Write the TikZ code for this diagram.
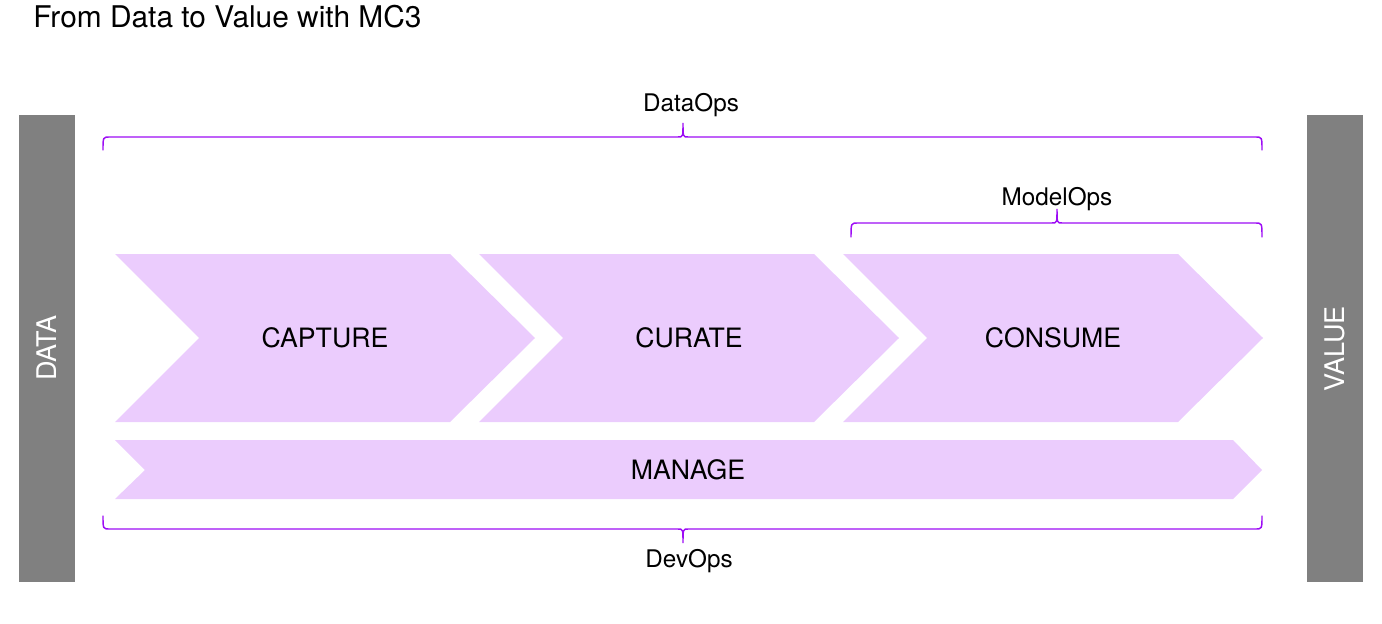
\documentclass[tikz,border=0pt]{standalone}
\usepackage{fontspec}
\setmainfont{TeX Gyre Heros}
\usetikzlibrary{calc}
\definecolor{stagefill}{HTML}{EBCCFD}
\definecolor{bracecol}{HTML}{9D0CF5}
\definecolor{bargray}{HTML}{808080}
% one stage arrow: name, left edge, label
\def\stage#1#2#3{
  \fill[stage] (#2,254) -- ++(335,0) -- ++(85,84) -- ++(-85,84)
    -- ++(-335,0) -- ++(84,-84) -- cycle;
  \node[stage text] (#1) at (#2+210,338) {#3};
}

\begin{document}
\begin{tikzpicture}[x=0.75pt, y=-0.75pt,
  stage/.style={fill=stagefill},
  stage text/.style={font=\fontsize{20}{24}\selectfont, inner sep=0pt},
  side bar/.style={fill=bargray},
  bar text/.style={font=\fontsize{20.3}{24}\selectfont, text=white, rotate=90, inner sep=0pt},
  ops brace/.style={draw=bracecol, line width=1.1pt, line cap=round},
  ops text/.style={font=\fontsize{18.2}{22}\selectfont, anchor=base, inner sep=0pt}]
\useasboundingbox (0,0) rectangle (1382,624);

% title
\node[anchor=base west, inner sep=0pt, font=\fontsize{22.4}{27}\selectfont]
  (title) at (33,28) {From Data to Value with MC3};

% side bars
\fill[side bar] (19,115) rectangle (75,582);
\node[bar text] (data) at (47,348) {DATA};
\fill[side bar] (1307,115) rectangle (1363,582);
\node[bar text] (value) at (1335,349) {VALUE};

% brackets
\draw[ops brace] (103,150) .. controls (103,137) .. (110,137) -- (678,137)
  .. controls (683,137) .. (683,123) .. controls (683,137) .. (688,137)
  -- (1255,137) .. controls (1262,137) .. (1262,150);
\node[ops text] (dataops) at (691,112) {DataOps};

\draw[ops brace] (851,237) .. controls (851,223) .. (858,223) -- (1052,223)
  .. controls (1057,223) .. (1057,209) .. controls (1057,223) .. (1062,223)
  -- (1255,223) .. controls (1262,223) .. (1262,237);
\node[ops text] (modelops) at (1057,205) {ModelOps};

\draw[ops brace] (103,516) .. controls (103,529) .. (110,529) -- (678,529)
  .. controls (683,529) .. (683,543) .. controls (683,529) .. (688,529)
  -- (1255,529) .. controls (1262,529) .. (1262,516);
\node[ops text] (devops) at (689,567) {DevOps};

% the three stages
\stage{capture}{115}{CAPTURE}
\stage{curate}{479}{CURATE}
\stage{consume}{843}{CONSUME}

% manage runs under all of them
\fill[stage] (115,440) -- (1233,440) -- (1262,470) -- (1233,499)
  -- (115,499) -- (145,470) -- cycle;
\node[stage text] (manage) at (688,470) {MANAGE};
\end{tikzpicture}
\end{document}
